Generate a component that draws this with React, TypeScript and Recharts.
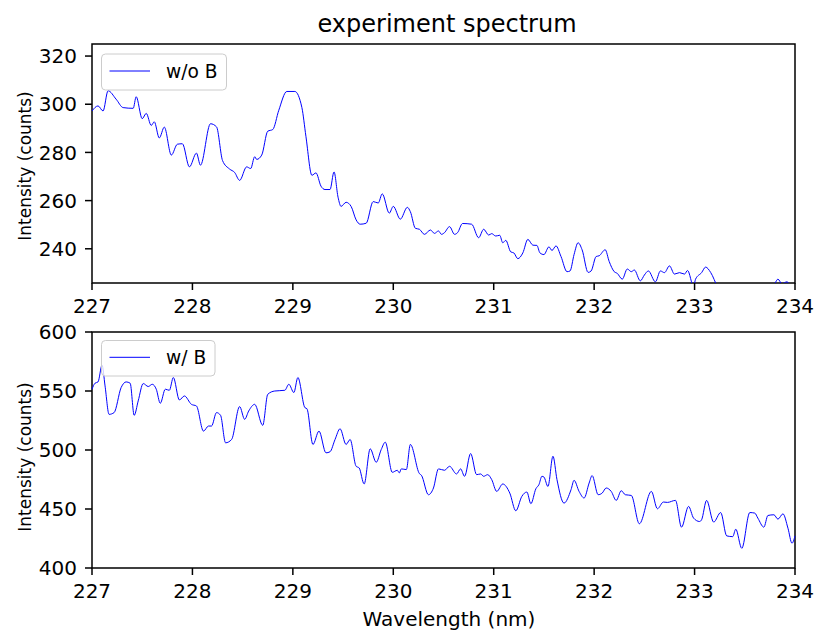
import { Line, LineChart, ReferenceArea, XAxis, YAxis } from 'recharts'

// wavelength (nm) and intensity (counts)
const wavelengthNoB = [
  227.0, 227.06, 227.11, 227.16, 227.24, 227.31, 227.41, 227.44, 227.5, 227.54,
  227.59, 227.62, 227.67, 227.72, 227.79, 227.85, 227.9, 227.97, 228.04, 228.08,
  228.18, 228.24, 228.3, 228.37, 228.42, 228.47, 228.54, 228.58, 228.62, 228.64,
  228.69, 228.75, 228.8, 228.86, 228.94, 229.02, 229.09, 229.13, 229.19, 229.23,
  229.28, 229.32, 229.37, 229.41, 229.45, 229.48, 229.53, 229.58, 229.63, 229.67,
  229.73, 229.8, 229.85, 229.89, 229.96, 230.0, 230.07, 230.14, 230.17, 230.22,
  230.26, 230.31, 230.37, 230.41, 230.45, 230.48, 230.51, 230.56, 230.61, 230.64,
  230.69, 230.78, 230.85, 230.9, 230.95, 230.98, 231.02, 231.06, 231.09, 231.12,
  231.17, 231.2, 231.24, 231.29, 231.34, 231.39, 231.43, 231.46, 231.5, 231.55,
  231.58, 231.62, 231.67, 231.73, 231.76, 231.8, 231.84, 231.88, 231.94, 231.97,
  232.02, 232.05, 232.11, 232.15, 232.2, 232.23, 232.28, 232.33, 232.37, 232.4,
  232.46, 232.5, 232.54, 232.61, 232.66, 232.7, 232.75, 232.8, 232.85, 232.9,
  232.93, 232.99, 233.01, 233.07, 233.11, 233.16, 233.23, 233.3, 233.45, 233.6,
  233.75, 233.8, 233.83, 233.87, 233.92, 233.96, 234.0,
]
const intensityNoB = [
  297.2, 299.3, 297.2, 305.6, 302.1, 298.6, 298.3, 303.1, 294.0, 296.2,
  291.2, 292.7, 286.0, 290.5, 278.9, 283.4, 283.6, 274.0, 279.7, 274.7,
  291.9, 290.6, 276.6, 273.1, 271.7, 268.4, 274.0, 273.3, 278.2, 277.1,
  278.9, 288.8, 289.5, 297.5, 305.3, 305.3, 298.6, 286.7, 270.5, 271.5,
  266.0, 264.6, 264.6, 271.9, 261.4, 257.6, 259.3, 257.6, 252.0, 250.2,
  250.6, 259.6, 259.0, 262.8, 254.8, 257.6, 252.3, 257.2, 255.4, 248.5,
  248.1, 246.0, 247.8, 246.4, 247.4, 246.0, 246.7, 249.2, 246.0, 246.7,
  250.5, 250.2, 244.6, 248.1, 245.7, 246.3, 245.3, 245.6, 242.5, 243.5,
  238.7, 238.3, 235.9, 238.3, 243.9, 241.5, 241.4, 238.3, 237.6, 240.8,
  239.3, 241.2, 236.8, 230.5, 230.8, 237.6, 242.5, 239.6, 230.2, 230.8,
  236.8, 237.1, 239.6, 234.7, 230.5, 229.8, 227.4, 231.6, 230.5, 231.2,
  226.7, 229.1, 230.8, 226.3, 230.8, 230.1, 232.9, 229.5, 230.1, 229.5,
  231.0, 224.5, 227.4, 230.1, 232.4, 230.2, 224.0, 219.0, 216.0, 218.0,
  222.0, 225.6, 227.4, 225.5, 226.3, 224.8, 225.2,
]

const wavelengthB = [
  227.0, 227.03, 227.06, 227.1, 227.13, 227.17, 227.22, 227.29, 227.34, 227.38,
  227.42, 227.46, 227.51, 227.56, 227.6, 227.64, 227.68, 227.73, 227.77, 227.81,
  227.87, 227.92, 227.99, 228.04, 228.11, 228.16, 228.19, 228.24, 228.28, 228.33,
  228.39, 228.47, 228.52, 228.56, 228.62, 228.7, 228.75, 228.82, 228.92, 228.96,
  229.01, 229.05, 229.12, 229.14, 229.2, 229.26, 229.33, 229.37, 229.42, 229.47,
  229.53, 229.57, 229.63, 229.66, 229.71, 229.77, 229.83, 229.88, 229.92, 229.99,
  230.04, 230.06, 230.08, 230.13, 230.17, 230.26, 230.28, 230.35, 230.4, 230.45,
  230.51, 230.56, 230.63, 230.67, 230.71, 230.77, 230.83, 230.87, 230.9, 230.94,
  230.98, 231.03, 231.09, 231.16, 231.22, 231.28, 231.33, 231.37, 231.42, 231.45,
  231.48, 231.5, 231.54, 231.59, 231.63, 231.7, 231.77, 231.8, 231.85, 231.9,
  231.95, 231.98, 232.04, 232.08, 232.12, 232.17, 232.22, 232.27, 232.31, 232.37,
  232.45, 232.57, 232.63, 232.69, 232.73, 232.81, 232.87, 232.94, 232.99, 233.05,
  233.07, 233.12, 233.19, 233.26, 233.32, 233.38, 233.41, 233.47, 233.55, 233.6,
  233.63, 233.69, 233.73, 233.79, 233.83, 233.88, 233.93, 233.97, 234.0,
]
const intensityB = [
  551.5, 556.6, 557.7, 571.9, 554.3, 530.2, 531.7, 552.9, 557.7, 556.6,
  529.4, 541.6, 556.3, 553.8, 555.7, 551.5, 539.6, 551.5, 550.6, 561.4,
  542.4, 545.8, 538.7, 537.3, 516.0, 520.3, 520.3, 531.7, 529.4, 506.1,
  508.9, 536.8, 526.0, 533.0, 538.7, 520.9, 547.2, 550.0, 550.6, 555.7,
  548.7, 561.4, 535.9, 535.0, 504.7, 516.0, 497.6, 498.5, 508.9, 518.0,
  504.7, 508.9, 486.2, 484.8, 471.2, 501.0, 489.6, 500.4, 506.6, 481.1,
  482.8, 480.6, 484.0, 483.4, 504.7, 480.0, 478.6, 462.1, 467.8, 484.0,
  482.8, 486.2, 479.7, 484.0, 477.7, 497.0, 479.1, 479.7, 477.7, 479.1,
  474.9, 464.9, 471.2, 463.5, 448.5, 460.7, 464.4, 454.5, 467.2, 470.6,
  477.7, 477.1, 469.1, 494.7, 474.9, 455.0, 466.4, 474.3, 464.9, 459.3,
  472.0, 478.3, 462.1, 463.5, 467.8, 464.9, 457.3, 465.5, 462.1, 461.5,
  437.5, 464.9, 450.2, 455.9, 455.6, 457.3, 434.6, 452.2, 442.3, 439.4,
  440.9, 457.3, 438.9, 447.0, 427.2, 426.6, 432.9, 416.7, 447.0, 446.5,
  442.3, 434.6, 444.5, 445.1, 441.4, 445.9, 433.7, 421.0, 427.2,
]

const xTicks = [227, 228, 229, 230, 231, 232, 233, 234]
const yTicksNoB = [240, 260, 280, 300, 320]
const yTicksB = [400, 450, 500, 550, 600]

const FONT = 'DejaVu Sans'
const tickStyle = { fill: '#000', fontSize: 20, fontFamily: FONT }

const dataNoB = wavelengthNoB.map((wl, i) => ({ wl, counts: intensityNoB[i] }))
const dataB = wavelengthB.map((wl, i) => ({ wl, counts: intensityB[i] }))

function SpectrumPanel({
  data,
  yDomain,
  yTicks,
  height,
  top,
}: {
  data: { wl: number; counts: number }[]
  yDomain: [number, number]
  yTicks: number[]
  height: number
  top: number
}) {
  return (
    <LineChart width={818} height={height} data={data} margin={{ top, right: 23, bottom: 0, left: 0 }}>
      <XAxis
        dataKey="wl"
        type="number"
        domain={[227, 234]}
        ticks={xTicks}
        height={40}
        axisLine={false}
        tickSize={7}
        tickMargin={9}
        tickLine={{ stroke: '#000', strokeWidth: 1.5 }}
        tick={tickStyle}
      />
      <YAxis
        type="number"
        domain={yDomain}
        allowDataOverflow
        ticks={yTicks}
        width={92}
        axisLine={false}
        tickSize={7}
        tickMargin={8}
        tickLine={{ stroke: '#000', strokeWidth: 1.5 }}
        tick={tickStyle}
      />
      <Line
        type="monotone"
        dataKey="counts"
        stroke="#0000ff"
        strokeWidth={1}
        dot={false}
        isAnimationActive={false}
      />
      <ReferenceArea
        x1={227}
        x2={234}
        y1={yDomain[0]}
        y2={yDomain[1]}
        fill="none"
        stroke="#000"
        strokeWidth={1.5}
        ifOverflow="visible"
      />
    </LineChart>
  )
}

export default function App() {
  return (
    <div style={{ position: 'absolute', left: 0, top: 0, width: 818, height: 635, background: '#fff' }}>
      <div style={{ position: 'absolute', left: 0, top: 0 }}>
        <SpectrumPanel data={dataNoB} yDomain={[225.8, 325]} yTicks={yTicksNoB} height={323} top={44} />
      </div>
      <div style={{ position: 'absolute', left: 0, top: 290 }}>
        <SpectrumPanel data={dataB} yDomain={[400, 600]} yTicks={yTicksB} height={318} top={42} />
      </div>
      <svg
        width={818}
        height={635}
        style={{ position: 'absolute', left: 0, top: 0, pointerEvents: 'none' }}
        fontFamily={FONT}
      >
        <text x={447} y={32} fontSize={24} textAnchor="middle" fill="#000">
          experiment spectrum
        </text>
        <text transform="translate(31, 166) rotate(-90)" fontSize={17} textAnchor="middle" fill="#000">
          Intensity (counts)
        </text>
        <text transform="translate(31, 457) rotate(-90)" fontSize={17} textAnchor="middle" fill="#000">
          Intensity (counts)
        </text>
        <text x={449} y={626} fontSize={20} textAnchor="middle" fill="#000">
          Wavelength (nm)
        </text>

        {/* legends */}
        <rect x={101.5} y={54} width={125} height={36} rx={4} fill="#fff" fillOpacity={0.8} stroke="#cccccc" />
        <line x1={109.5} x2={150} y1={71} y2={71} stroke="#0000ff" strokeWidth={1} />
        <text x={166} y={78.3} fontSize={18.6} fill="#000">w/o B</text>

        <rect x={101.5} y={340.5} width={113.5} height={35.5} rx={4} fill="#fff" fillOpacity={0.8} stroke="#cccccc" />
        <line x1={109.5} x2={150} y1={357.3} y2={357.3} stroke="#0000ff" strokeWidth={1} />
        <text x={166} y={364.3} fontSize={18.6} fill="#000">w/ B</text>
      </svg>
    </div>
  )
}
